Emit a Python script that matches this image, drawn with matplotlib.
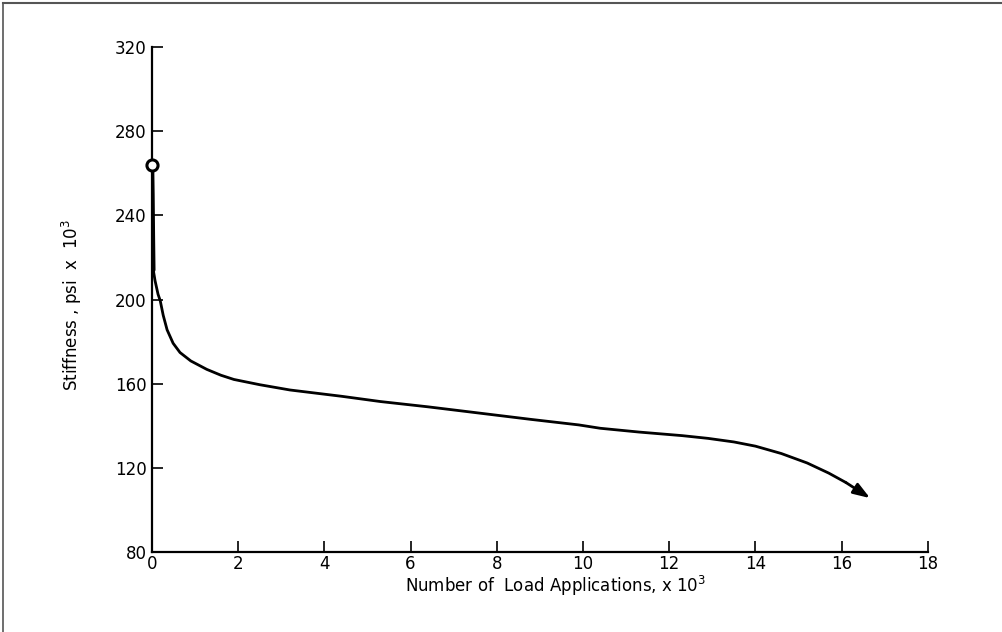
import matplotlib
matplotlib.use('Agg')
import matplotlib.pyplot as plt
from matplotlib.lines import Line2D

# stiffness decay under repeated loading (x in thousands of cycles, psi x 10^3)
load_apps = [0.0, 0.01, 0.02, 0.03, 0.07, 0.14, 0.19, 0.26, 0.35, 0.49, 0.65, 0.9, 1.27, 1.6, 1.9,
             2.5, 3.2, 4.4, 5.3, 6.4, 7.6, 8.8, 9.9, 10.4, 11.3, 12.3, 12.9, 13.5, 14.0,
             14.6, 15.2, 15.7, 16.1]
stiffness = [264, 250, 230, 214, 209, 202.5, 199.5, 192.5, 185.6, 179.2, 174.8, 170.8, 166.8, 164, 162,
             159.5, 157, 154, 151.5, 149, 146, 143, 140.4, 138.8, 137, 135.3, 134, 132.3, 130.3,
             126.8, 122.3, 117.5, 113]
arrow_tip = (16.66, 105.6)
start_point = (0.0, 264)

x_ticks = list(range(0, 19, 2))
y_ticks = list(range(80, 321, 40))

plt.rcParams['font.family'] = ['DejaVu Sans']

fig = plt.figure(figsize=(10.02, 6.32), dpi=100)
ax = fig.add_axes([0.1517, 0.1266, 0.926 - 0.1517, 0.9256 - 0.1266])

# steep initial drop is drawn heavier than the rest of the curve
ax.plot(load_apps[:4], stiffness[:4], color='black', lw=3.2, solid_capstyle='round')
ax.plot(load_apps[3:], stiffness[3:], color='black', lw=2.0, solid_capstyle='round',
        solid_joinstyle='round')
ax.annotate('', xy=arrow_tip, xytext=(load_apps[-1], stiffness[-1]),
            arrowprops=dict(arrowstyle='-|>,head_length=1.0,head_width=0.35',
                            color='black', lw=2.0, shrinkA=0, shrinkB=0))
ax.plot(*start_point, marker='o', ms=8, mfc='white', mec='black', mew=2.2, zorder=5,
        clip_on=False)

ax.set_xlim(0, 18)
ax.set_ylim(80, 320)
ax.set_xticks(x_ticks)
ax.set_yticks(y_ticks)
ax.tick_params(direction='in', length=8, width=1.2, labelsize=12, pad=4)
ax.tick_params(axis='x', pad=2)

for side in ['top', 'right']:
    ax.spines[side].set_visible(False)
for side in ['left', 'bottom']:
    ax.spines[side].set_linewidth(1.6)

ax.set_xlabel(r'Number of  Load Applications, x 10$^3$', fontsize=12)
ax.xaxis.set_label_coords(0.52, -0.043)
ax.set_ylabel(r'Stiffness , psi  x  10$^3$', fontsize=12)
ax.yaxis.set_label_coords(-0.088, 0.49)

# page border on the scanned sheet
fig.add_artist(Line2D([0.003, 1.0], [0.995, 0.995], transform=fig.transFigure, color='#555555', lw=1.5))
fig.add_artist(Line2D([0.003, 0.003], [0.0, 0.995], transform=fig.transFigure, color='#555555', lw=1.2))

fig.savefig('out.png', dpi=100, facecolor='white')
